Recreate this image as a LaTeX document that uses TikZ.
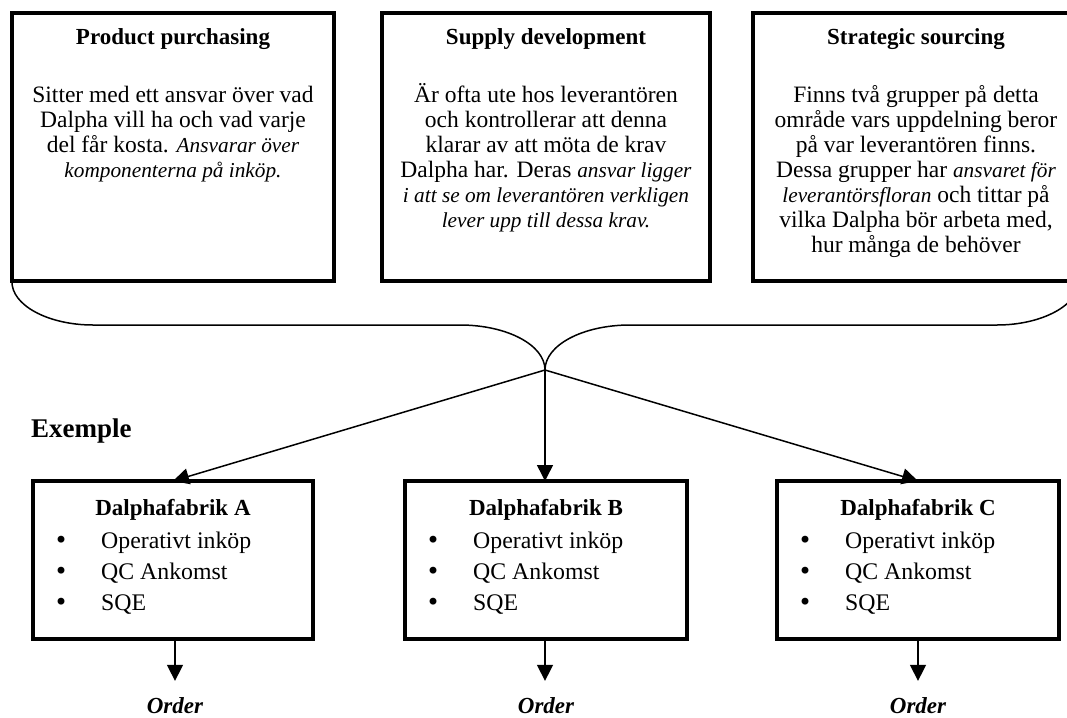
\documentclass[tikz,border=0pt]{standalone}
\usepackage{fontspec}
\setmainfont{Liberation Serif}
\newfontfamily\dotfont{DejaVu Sans}
\usetikzlibrary{arrows.meta}
\newcommand{\listdot}{\makebox[47pt][l]{\dotfont •}}
\newcommand{\firstline}{\rule{0pt}{22pt}}
\newcommand{\slant}[1]{{\fontsize{21.3}{25}\selectfont\itshape #1}}
\begin{document}
\begin{tikzpicture}[x=1pt,y=-1pt,
  frame/.style={draw, line width=4pt, inner sep=0pt, outer sep=0pt, anchor=north west},
  heading/.style={font=\fontsize{23}{26}\selectfont\bfseries, anchor=base, inner sep=0pt},
  body/.style={font=\fontsize{23.5}{25}\selectfont, align=center, anchor=north, inner sep=0pt},
  plant/.style={font=\fontsize{23}{26}\selectfont\bfseries, anchor=base, inner sep=0pt},
  duties/.style={font=\fontsize{23.8}{31}\selectfont, align=left, anchor=north west, inner sep=0pt},
  result/.style={font=\fontsize{23}{26}\selectfont\bfseries\itshape, anchor=base, inner sep=0pt},
  link/.style={line width=1.5pt},
  flow/.style={line width=1.5pt, -{Triangle[length=16pt,width=16pt]}}
]
\useasboundingbox (0,0) rectangle (1067,717);
\clip (0,0) rectangle (1067,717);

% three responsibility areas
\node[frame, minimum width=322pt, minimum height=268pt] (pp) at (12,13) {};
\node[frame, minimum width=328pt, minimum height=268pt] (sd) at (382,13) {};
\node[frame, minimum width=326pt, minimum height=268pt] (ss) at (753,13) {};

\node[heading] (ppt) at (173,45) {Product purchasing};
\node[heading] (sdt) at (546,45) {Supply development};
\node[heading] (sst) at (916,45) {Strategic sourcing};

\node[body] (ppb) at (173,80) {\firstline Sitter med ett ansvar över vad\\
  Dalpha vill ha och vad varje\\
  del får kosta. \slant{Ansvarar över}\\
  \slant{komponenterna på inköp.}};
\node[body] (sdb) at (546,80) {\firstline Är ofta ute hos leverantören\\
  och kontrollerar att denna\\
  klarar av att möta de krav\\
  Dalpha har. Deras \slant{ansvar ligger}\\
  \slant{i att se om leverantören verkligen}\\
  \slant{lever upp till dessa krav.}};
\node[body] (ssb) at (916,80) {\firstline Finns två grupper på detta\\
  område vars uppdelning beror\\
  på var leverantören finns.\\
  Dessa grupper har \slant{ansvaret för}\\
  \slant{leverantörsfloran} och tittar på\\
  vilka Dalpha bör arbeta med,\\
  hur många de behöver};

% brace gathering the three areas
\coordinate (tip) at (545,370);
\draw[link] (pp.south west) .. controls (11,305) and (48,325) .. (93,325)
  -- (460,325) .. controls (507,325) and (545,345) .. (tip)
  .. controls (545,345) and (583,325) .. (630,325)
  -- (997,325) .. controls (1042,325) and (1079,305) .. (ss.south east);

\node[font=\fontsize{27}{30}\selectfont\bfseries, anchor=base west, inner sep=0pt] (ex) at (31,437) {Exemple};

% factories
\node[frame, minimum width=280pt, minimum height=158pt] (fa) at (33,481) {};
\node[frame, minimum width=282pt, minimum height=158pt] (fb) at (405,481) {};
\node[frame, minimum width=282pt, minimum height=158pt] (fc) at (777,481) {};

\node[plant] (fat) at (173,515) {Dalphafabrik A};
\node[plant] (fbt) at (546,515) {Dalphafabrik B};
\node[plant] (fct) at (918,515) {Dalphafabrik C};

\node[duties] (fal) at (54,526) {\firstline\listdot Operativt inköp\\\listdot QC Ankomst\\\listdot SQE};
\node[duties] (fbl) at (426,526) {\firstline\listdot Operativt inköp\\\listdot QC Ankomst\\\listdot SQE};
\node[duties] (fcl) at (798,526) {\firstline\listdot Operativt inköp\\\listdot QC Ankomst\\\listdot SQE};

\draw[flow] (tip) -- (fa.north);
\draw[flow] (tip) -- (fb.north -| tip);
\draw[flow] (tip) -- (fc.north);

% orders
\node[result] (oa) at (175,713) {Order};
\node[result] (ob) at (546,713) {Order};
\node[result] (oc) at (918,713) {Order};

\draw[flow, shorten >=16pt] (fa.south -| oa) -- (oa.north);
\draw[flow, shorten >=16pt] (fb.south -| tip) -- (ob.north -| tip);
\draw[flow, shorten >=16pt] (fc.south) -- (oc.north);
\end{tikzpicture}
\end{document}
